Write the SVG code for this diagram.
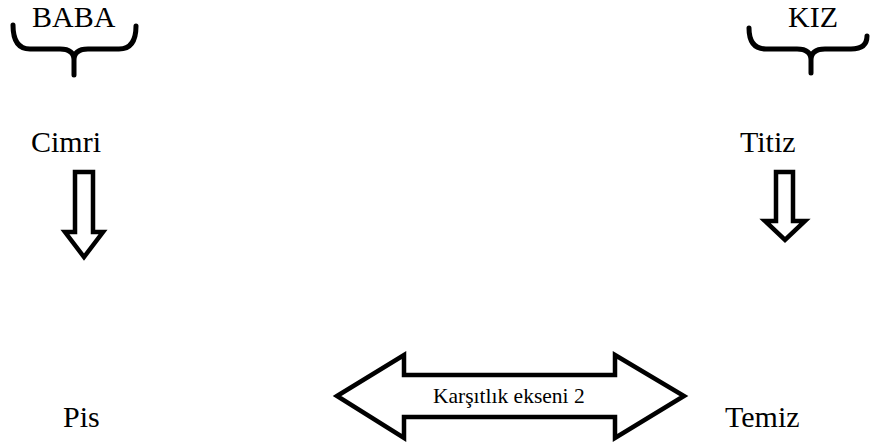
<svg xmlns="http://www.w3.org/2000/svg" width="872" height="443" viewBox="0 0 872 443">
  <style>
    .lbl { font-family: 'Liberation Serif', 'Times New Roman', Times, 'DejaVu Serif', serif; font-size: 30px; fill: #000; }
    .small { font-family: 'Liberation Serif', 'Times New Roman', Times, 'DejaVu Serif', serif; font-size: 21.5px; fill: #000; }
    .brace { fill: none; stroke: #000; stroke-width: 5; stroke-linecap: round; stroke-linejoin: round; }
    .block { fill: #fff; stroke: #000; stroke-width: 4.5; stroke-linejoin: miter; stroke-miterlimit: 10; }
  </style>
  <rect width="872" height="443" fill="#fff"/>

  <g id="baba">
    <text class="lbl" x="32" y="27">BABA</text>
    <path class="brace" d="M13,25 Q13,49 30,49 L60,49 Q74,49 74,60 L74,75 M74,60 Q74,49 88,49 L119,49 Q136,49 136,26"/>
  </g>

  <g id="kiz">
    <text class="lbl" x="788" y="27">KIZ</text>
    <path class="brace" d="M749,28 Q749,49 766,49 L797,49 Q811,49 811,60 L811,73 M811,60 Q811,49 825,49 L851,49 Q867,49 867,36"/>
  </g>

  <g id="cimri">
    <text class="lbl" x="31" y="152">Cimri</text>
  </g>

  <g id="titiz">
    <text class="lbl" x="740" y="152">Titiz</text>
  </g>

  <g id="pis">
    <text class="lbl" x="63" y="427">Pis</text>
  </g>

  <g id="temiz">
    <text class="lbl" x="725" y="427">Temiz</text>
  </g>

  <g id="connectors">
    <polygon id="arrow-cimri-pis" class="block" points="75,172 93,172 93,232 103,232 84,257 65,232 75,232"/>
    <polygon id="arrow-titiz-temiz" class="block" points="776,172 793,172 793,221 805,221 785,240 765,221 776,221"/>
    <g id="axis">
      <polygon class="block" points="337,396 404,355 404,375 615,375 615,355 684,396 615,438 615,417 404,417 404,438"/>
      <text class="small" x="433" y="403">Karşıtlık ekseni 2</text>
    </g>
  </g>
</svg>
